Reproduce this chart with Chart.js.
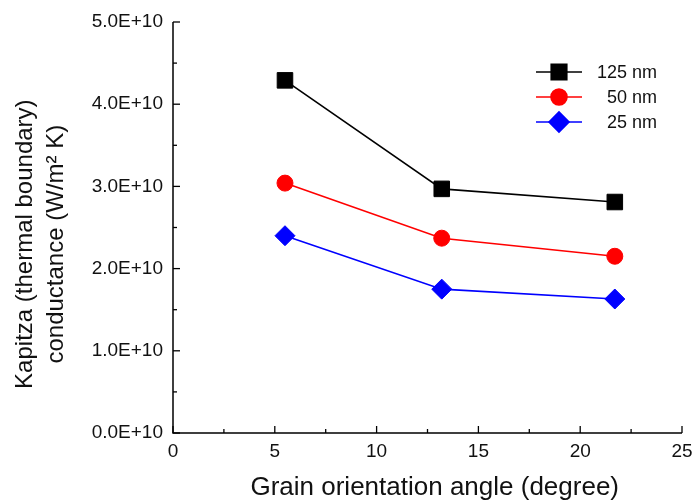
<!DOCTYPE html>
<html>
<head>
<meta charset="utf-8">
<script src="https://cdn.jsdelivr.net/npm/chart.js@4"></script>
<style>
  html, body { margin: 0; padding: 0; background: #fff; }
  #wrap { width: 694px; height: 501px; }
</style>
</head>
<body>
<div id="wrap"><canvas id="c" width="694" height="501"></canvas></div>
<script>
// values
const angles = [5.5, 13.2, 21.7];
const seriesNames = ['125 nm', '50 nm', '25 nm'];
const g125 = [4.29e10, 2.97e10, 2.81e10];
const g50 = [3.04e10, 2.37e10, 2.15e10];
const g25 = [2.40e10, 1.75e10, 1.63e10];
// padding spaces nudge the titles off centre a little, as in the original
const xTitle = '  Grain orientation angle (degree)';
const yTitle = ['Kapitza (thermal boundary)     ', 'conductance (W/m\u00B2 K)     '];

const fontfam = 'Arial, "Liberation Sans", Helvetica, sans-serif';

const toPoints = (ys) => angles.map((x, i) => ({x: x, y: ys[i]}));

const mkSet = (label, ys, color, style, radius) => ({
    label: label,
    data: toPoints(ys),
    borderColor: color,
    backgroundColor: color,
    borderWidth: 1.6,
    pointStyle: style,
    pointRadius: radius,
    pointHoverRadius: radius,
    pointBorderWidth: 1,
    pointBorderColor: color,
    pointBackgroundColor: color,
    tension: 0
});

// inward ticks, major and minor
const tickPlugin = {
    id: 'inticks',
    afterDraw(chart) {
        const ctx = chart.ctx;
        const xs = chart.scales.x, ys = chart.scales.y;
        const area = chart.chartArea;
        ctx.save();
        ctx.strokeStyle = '#000';
        ctx.lineWidth = 1.5;
        ctx.beginPath();
        ctx.moveTo(area.left, area.top);
        ctx.lineTo(area.left, area.bottom);
        ctx.lineTo(area.right, area.bottom);
        ctx.stroke();
        ctx.lineWidth = 1.3;
        for (const t of ys.ticks) {
            const py = ys.getPixelForValue(t.value);
            const major = Math.abs(t.value % 1e10) < 1;
            ctx.beginPath();
            ctx.moveTo(area.left, py);
            ctx.lineTo(area.left + (major ? 7 : 4), py);
            ctx.stroke();
        }
        for (const t of xs.ticks) {
            const px = xs.getPixelForValue(t.value);
            const major = Math.abs(t.value % 5) < 1e-6;
            ctx.beginPath();
            ctx.moveTo(px, area.bottom);
            ctx.lineTo(px, area.bottom - (major ? 7 : 4));
            ctx.stroke();
        }
        ctx.restore();
    }
};

// legend with a line through each marker, like the original
const legendPlugin = {
    id: 'linelegend',
    afterDatasetsDraw(chart) {
        const ctx = chart.ctx;
        const area = chart.chartArea;
        const x0 = area.left + 363, x1 = area.left + 409;
        const textRight = area.left + 484;
        let y = area.top + 50;
        ctx.save();
        ctx.font = '18px ' + fontfam;
        ctx.textAlign = 'right';
        ctx.textBaseline = 'middle';
        chart.data.datasets.forEach(ds => {
            ctx.strokeStyle = ds.borderColor;
            ctx.lineWidth = ds.borderWidth;
            ctx.beginPath();
            ctx.moveTo(x0, y);
            ctx.lineTo(x1, y);
            ctx.stroke();
            ctx.fillStyle = ds.backgroundColor;
            ctx.strokeStyle = ds.borderColor;
            Chart.helpers.drawPoint(ctx, {
                pointStyle: ds.pointStyle,
                radius: ds.pointRadius,
                rotation: 0,
                borderWidth: 1
            }, (x0 + x1) / 2, y);
            ctx.fillStyle = '#111';
            ctx.fillText(ds.label, textRight, y + 1);
            y += 25;
        });
        ctx.restore();
    }
};

new Chart(document.getElementById('c'), {
    type: 'line',
    data: {
        datasets: [
            mkSet(seriesNames[0], g125, '#000000', 'rect', 11),
            mkSet(seriesNames[1], g50, '#ff0000', 'circle', 8),
            mkSet(seriesNames[2], g25, '#0000ff', 'rectRot', 10)
        ]
    },
    options: {
        responsive: false,
        animation: false,
        layout: { padding: { left: 8, right: 11, top: 22, bottom: 0 } },
        plugins: {
            legend: { display: false },
            tooltip: { enabled: false }
        },
        scales: {
            x: {
                type: 'linear',
                min: 0, max: 25,
                afterFit: (s) => { s.height = 68; s.paddingRight = 0; s.paddingLeft = 0; },
                border: { display: false },
                grid: { display: false, drawTicks: false },
                ticks: {
                    stepSize: 2.5,
                    padding: 7,
                    color: '#111',
                    font: { family: fontfam, size: 19 },
                    maxRotation: 0,
                    autoSkip: false,
                    callback: (v) => (Math.abs(v % 5) < 1e-6 ? String(v) : '')
                },
                title: {
                    display: true,
                    text: xTitle,
                    color: '#111',
                    font: { family: fontfam, size: 26, lineHeight: 1.0 },
                    padding: { top: 8, bottom: 0 }
                }
            },
            y: {
                type: 'linear',
                min: 0, max: 5e10,
                afterFit: (s) => { s.width = 165; s.paddingTop = 0; s.paddingBottom = 0; },
                border: { display: false },
                grid: { display: false, drawTicks: false },
                ticks: {
                    stepSize: 5e9,
                    padding: 10,
                    color: '#111',
                    font: { family: fontfam, size: 19 },
                    autoSkip: false,
                    callback: (v) => (Math.abs(v % 1e10) < 1 ? (v / 1e10).toFixed(1) + 'E+10' : '')
                },
                title: {
                    display: true,
                    text: yTitle,
                    color: '#111',
                    font: { family: fontfam, size: 24, lineHeight: 1.3 },
                    padding: { top: 2, bottom: 4 }
                }
            }
        }
    },
    plugins: [tickPlugin, legendPlugin]
});
</script>
</body>
</html>
